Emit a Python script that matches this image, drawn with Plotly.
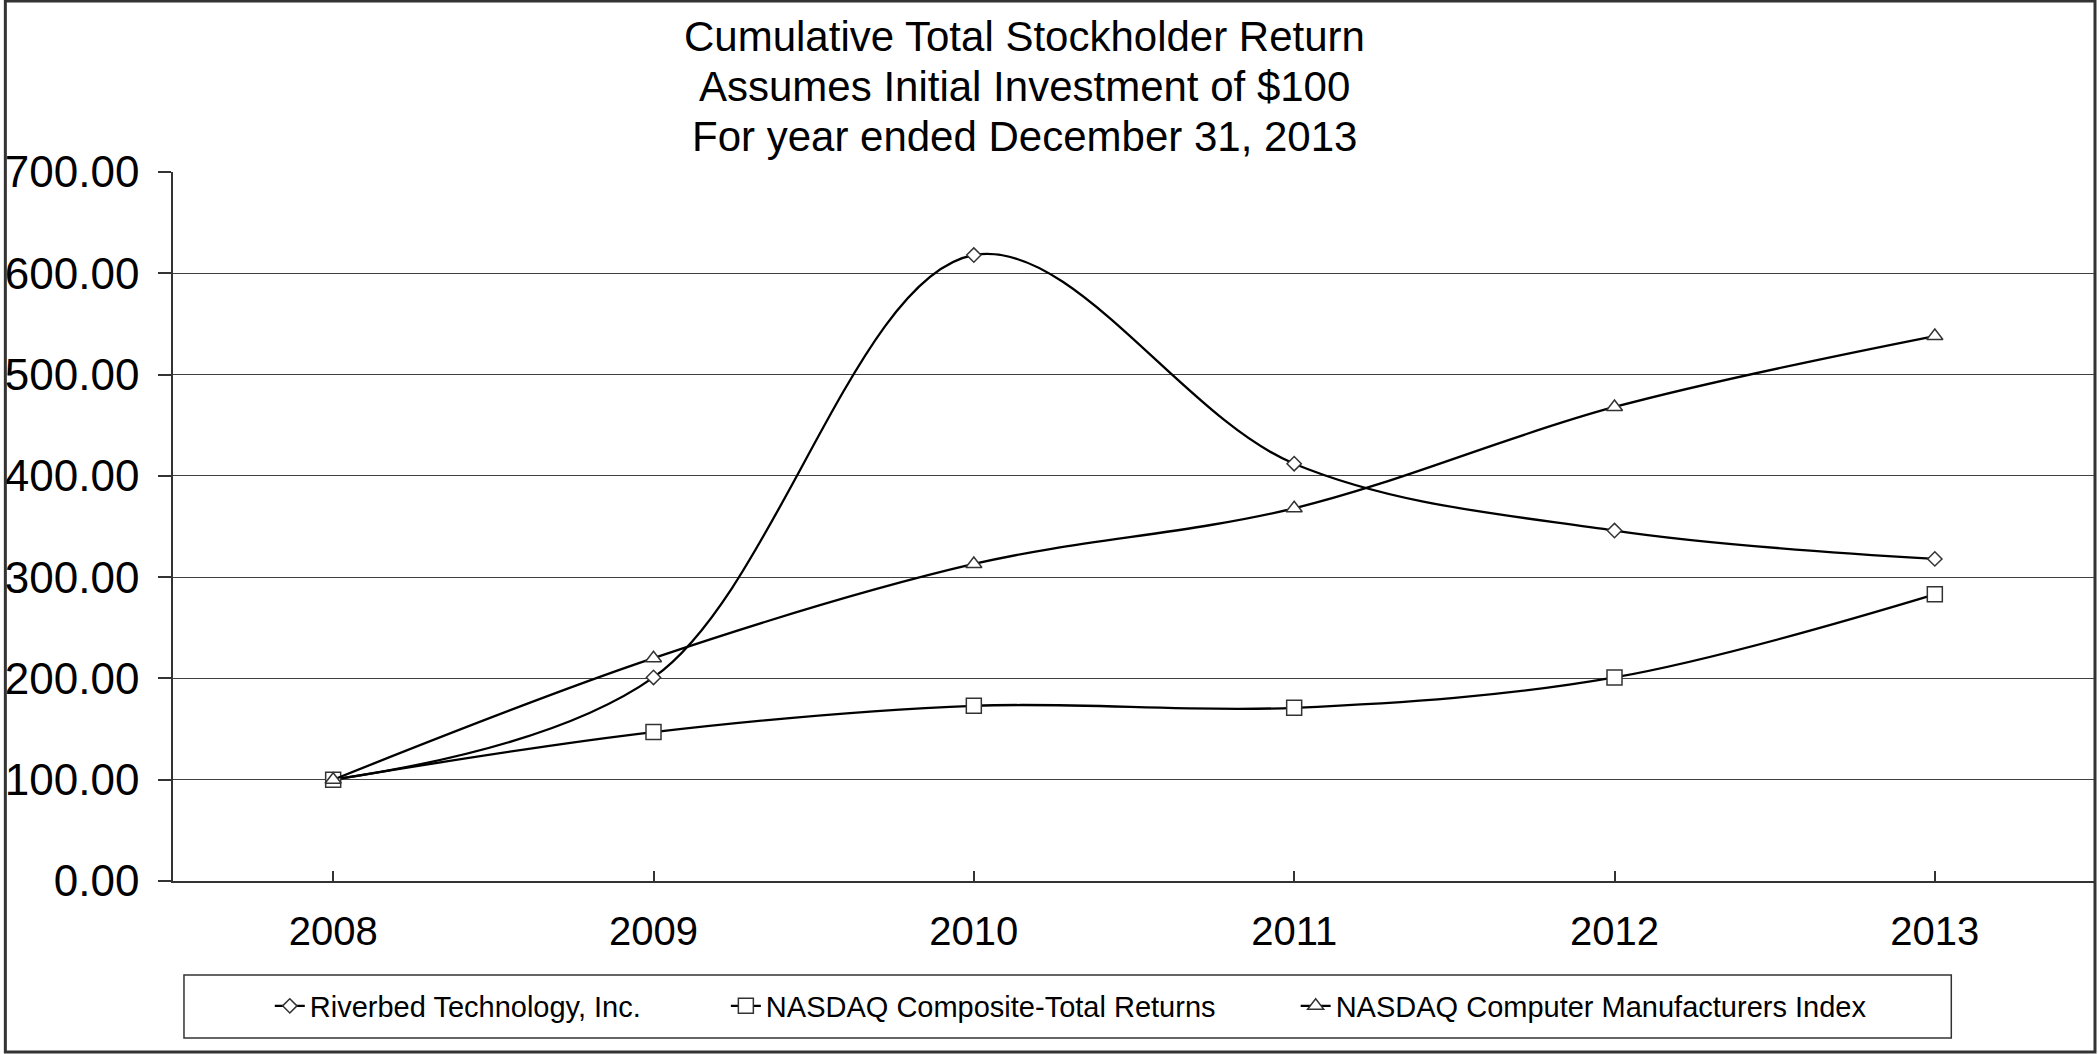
import plotly.graph_objects as go

years = ["2008", "2009", "2010", "2011", "2012", "2013"]
riverbed = [100.00, 201.00, 618.00, 412.00, 346.00, 318.00]
nasdaq_composite = [100.00, 147.00, 173.00, 171.00, 201.00, 283.00]
nasdaq_computer = [100.00, 220.00, 313.00, 368.00, 468.00, 538.00]

series_names = [
    "Riverbed Technology, Inc.",
    "NASDAQ Composite-Total Returns",
    "NASDAQ Computer Manufacturers Index",
]
title_lines = [
    "Cumulative Total Stockholder Return",
    "Assumes Initial Investment of $100",
    "For year ended December 31, 2013",
]
y_ticks = [0, 100, 200, 300, 400, 500, 600, 700]

W, H = 2100, 1054
L, R, T, B = 169, 5, 172, 173
PW = W - L - R
PH = H - T - B

FONT = "Liberation Sans, Arial, sans-serif"

def px_x(x):
    return (x - L) / PW

def px_y(y):
    return (H - B - y) / PH

fig = go.Figure()
symbols = ["diamond", "square", "triangle-up"]
sizes = [11, 15, 14]
data = [riverbed, nasdaq_composite, nasdaq_computer]
legends = ["legend", "legend2", "legend3"]
for name, vals, sym, sz, lg in zip(series_names, data, symbols, sizes, legends):
    fig.add_trace(go.Scatter(
        x=years, y=vals, name=name, mode="lines+markers",
        line=dict(color="black", width=2.3, shape="spline", smoothing=1.0),
        marker=dict(symbol=sym, size=sz, color="white",
                    line=dict(color="#333333", width=1.5)),
        legend=lg,
    ))

annotations = []
for line, yc in zip(title_lines, [36, 87, 136]):
    annotations.append(dict(
        text=line, xref="paper", yref="paper", x=px_x(1022), y=px_y(yc),
        xanchor="center", yanchor="middle", showarrow=False,
        font=dict(family=FONT, size=42, color="black"),
    ))

legend_common = dict(
    orientation="h", yanchor="middle", y=px_y(1006), xanchor="left",
    font=dict(family=FONT, size=29, color="black"),
    bgcolor="rgba(0,0,0,0)", borderwidth=0,
)

fig.update_layout(
    width=W, height=H,
    margin=dict(l=L, r=R, t=T, b=B, pad=0),
    paper_bgcolor="white", plot_bgcolor="white",
    font=dict(family=FONT, color="black"),
    showlegend=True,
    legend=dict(x=px_x(266), **legend_common),
    legend2=dict(x=px_x(723), **legend_common),
    legend3=dict(x=px_x(1294), **legend_common),
    annotations=annotations,
    shapes=[
        dict(type="rect", xref="paper", yref="paper",
             x0=px_x(180), x1=px_x(1951), y0=px_y(1038), y1=px_y(975),
             line=dict(color="#333333", width=1.5), fillcolor="rgba(0,0,0,0)"),
        dict(type="rect", xref="paper", yref="paper",
             x0=px_x(1), x1=px_x(2095), y0=px_y(1052), y1=px_y(1),
             line=dict(color="#333333", width=3), fillcolor="rgba(0,0,0,0)"),
    ],
    xaxis=dict(
        type="category", range=[-0.5, 5.5],
        showgrid=False, zeroline=False,
        showline=True, linecolor="#333333", linewidth=1.5,
        ticks="inside", ticklen=10, tickcolor="#333333", tickwidth=1.5,
        tickfont=dict(family=FONT, size=40, color="black"),
        ticklabelstandoff=14,
    ),
    yaxis=dict(
        range=[0, 700], tickvals=y_ticks, tickformat=".2f",
        showgrid=True, gridcolor="#404040", gridwidth=1.3,
        zeroline=False,
        showline=True, linecolor="#333333", linewidth=1.5,
        ticks="outside", ticklen=13, tickcolor="#333333", tickwidth=1.5,
        tickfont=dict(family=FONT, size=44, color="black"),
        ticklabelstandoff=10,
    ),
)

fig.write_html(
    "out.html",
    config={"displayModeBar": False},
    post_script="document.body.style.margin='0';document.body.style.overflow='hidden';",
)
